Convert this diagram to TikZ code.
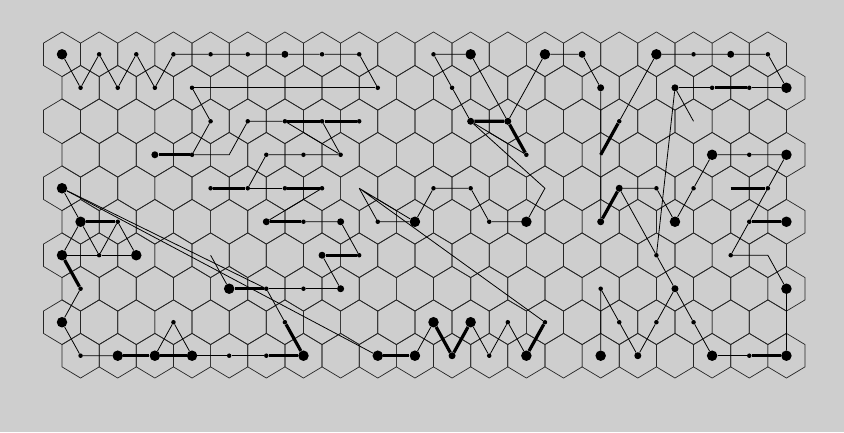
\documentclass[tikz,border=0pt]{standalone}
\definecolor{bg}{RGB}{206,206,206}
\begin{document}
\begin{tikzpicture}[x=1pt,y=-1pt,
  hexline/.style={draw=black!85, line width=0.7pt},
  dotS/.style={circle, fill=black, inner sep=0pt, minimum size=4.5pt},
  dotM/.style={circle, fill=black, inner sep=0pt, minimum size=7pt},
  dotL/.style={circle, fill=black, inner sep=0pt, minimum size=10.5pt},
  tl/.style={draw=black, line width=0.8pt},
  tk/.style={draw=black, line width=3.2pt}]
\fill[bg] (0,0) rectangle (844,432);
\useasboundingbox (0,0) rectangle (844,432);
\foreach \r in {0,...,9}{
  \foreach \c in {0,...,19}{
    \pgfmathsetmacro{\cx}{62+37.15*\c+18.575*mod(\r,2)}
    \pgfmathsetmacro{\cy}{54.3+33.49*\r}
    \coordinate (g-\r-\c) at (\cx,\cy);
    \draw[hexline] (\cx,\cy-22.33) -- (\cx+18.575,\cy-11.165) -- (\cx+18.575,\cy+11.165) -- (\cx,\cy+22.33) -- (\cx-18.575,\cy+11.165) -- (\cx-18.575,\cy-11.165) -- cycle;
  }
}
\newcommand\dt[3]{\node[#1] (n-#2-#3) at (g-#2-#3) {};}
% row 0
\dt{dotL}{0}{0}
\foreach \c in {1,2,3,4,5,7,8,10,17,19}{\dt{dotS}{0}{\c}}
\foreach \c in {6,14,18}{\dt{dotM}{0}{\c}}
\foreach \c in {11,13,16}{\dt{dotL}{0}{\c}}
% row 1
\foreach \c in {0,1,2,3,8,10,17,18}{\dt{dotS}{1}{\c}}
\foreach \c in {14,16}{\dt{dotM}{1}{\c}}
\dt{dotL}{1}{19}
% row 2
\foreach \c in {4,5,6,7,8,15}{\dt{dotS}{2}{\c}}
\foreach \c in {11,12}{\dt{dotM}{2}{\c}}
% row 3
\foreach \c in {3,5,6,7,12,18}{\dt{dotS}{3}{\c}}
\dt{dotM}{3}{2}
\foreach \c in {17,19}{\dt{dotL}{3}{\c}}
% row 4
\dt{dotL}{4}{0}
\foreach \c in {4,5,6,7,10,11,16,17,19}{\dt{dotS}{4}{\c}}
\dt{dotM}{4}{15}
% row 5
\foreach \c in {0,9,12,16,19}{\dt{dotL}{5}{\c}}
\foreach \c in {5,7,14}{\dt{dotM}{5}{\c}}
\foreach \c in {1,6,8,11,18}{\dt{dotS}{5}{\c}}
% row 6
\foreach \c in {0,2}{\dt{dotL}{6}{\c}}
\foreach \c in {1,8,16,18}{\dt{dotS}{6}{\c}}
\dt{dotM}{6}{7}
% row 7
\foreach \c in {0,5,6,14}{\dt{dotS}{7}{\c}}
\dt{dotL}{7}{4}
\foreach \c in {7,16}{\dt{dotM}{7}{\c}}
\dt{dotL}{7}{19}
% row 8
\foreach \c in {0,10,11}{\dt{dotL}{8}{\c}}
\foreach \c in {3,6,12,13,15,16,17}{\dt{dotS}{8}{\c}}
% row 9
\foreach \c in {0,4,5,11,18}{\dt{dotS}{9}{\c}}
\foreach \c in {1,2,3,6,8,9,12,14,17,19}{\dt{dotL}{9}{\c}}
\foreach \c in {10,15}{\dt{dotM}{9}{\c}}
% ---------- links ----------
\draw[tl] (n-0-0) -- (n-1-0) -- (n-0-1) -- (n-1-1) -- (n-0-2) -- (n-1-2) -- (n-0-3) -- (n-0-4) -- (n-0-5) -- (n-0-6) -- (n-0-7) -- (n-0-8) -- (n-1-8);
\draw[tl] (n-1-3) -- (n-1-8);
\draw[tl] (n-1-3) -- (n-2-4) -- (n-3-3) -- (g-3-4) -- (n-2-5) -- (n-2-6);
\draw[tk] (n-3-3) -- (n-3-2);
\draw[tk] (n-2-6) -- (n-2-7) -- (n-2-8);
\draw[tl] (n-2-6) -- (n-3-7);
\draw[tl] (n-2-7) -- (n-3-7);
\draw[tl] (n-3-7) -- (n-3-6) -- (n-3-5) -- (n-4-5);
\draw[tk] (n-4-4) -- (n-4-5);
\draw[tl] (n-4-5) -- (n-4-6);
\draw[tk] (n-4-6) -- (n-4-7);
\draw[tl] (n-4-7) -- (n-5-5);
\draw[tk] (n-5-5) -- (n-5-6);
\draw[tl] (n-5-6) -- (n-5-7) -- (n-6-8);
\draw[tk] (n-6-8) -- (n-6-7);
\draw[tl] (n-6-7) -- (n-7-7);
\draw[tk] (n-7-4) -- (n-7-5);
\draw[tl] (n-7-5) -- (n-7-6) -- (n-7-7);
\draw[tl] (n-7-5) -- (n-8-6);
\draw[tk] (n-8-6) -- (n-9-6);
\draw[tl] (n-9-4) -- (n-9-5);
\draw[tk] (n-9-5) -- (n-9-6);
\draw[tl] (g-6-4) -- (n-7-4);
\draw[tl] (n-4-0) -- (n-9-8);
\draw[tl] (n-4-0) -- (n-7-5);
\draw[tk] (n-9-8) -- (n-9-9);
\draw[tl] (n-9-9) -- (n-8-10);
\draw[tk] (n-8-10) -- (n-9-10) -- (n-8-11);
\draw[tl] (n-8-11) -- (n-9-11) -- (n-8-12) -- (n-9-12);
\draw[tk] (n-9-12) -- (n-8-13);
\draw[tl] (n-8-13) -- (g-4-8) -- (n-5-9);
\draw[tl] (g-4-8) -- (n-5-8) -- (n-5-9) -- (n-4-10) -- (n-4-11) -- (n-5-11) -- (n-5-12) -- (g-4-13) -- (n-2-11);
\draw[tl] (n-2-11) -- (n-3-12);
\draw[tk] (n-2-11) -- (n-2-12) -- (n-3-12);
\draw[tl] (n-0-10) -- (n-0-11) -- (n-2-12);
\draw[tl] (n-0-10) -- (n-1-10) -- (n-2-11);
\draw[tl] (n-0-13) -- (n-2-12);
\draw[tl] (n-0-13) -- (n-0-14) -- (n-1-14) -- (n-5-14);
\draw[tk] (n-2-15) -- (g-3-14);
\draw[tk] (n-4-15) -- (n-5-14);
\draw[tl] (n-0-16) -- (n-2-15);
\draw[tl] (n-0-16) -- (n-0-17) -- (n-0-18) -- (n-0-19) -- (n-1-19);
\draw[tl] (n-1-16) -- (n-1-17);
\draw[tk] (n-1-17) -- (n-1-18);
\draw[tl] (n-1-18) -- (n-1-19);
\draw[tl] (n-1-16) -- (g-2-17);
\draw[tl] (n-1-16) -- (n-6-16);
\draw[tl] (n-4-15) -- (n-6-16);
\draw[tl] (n-4-15) -- (n-4-16) -- (n-5-16) -- (n-4-17) -- (n-3-17) -- (n-3-18) -- (n-3-19) -- (n-4-19) -- (n-5-18) -- (n-6-18) -- (g-6-19) -- (n-7-19) -- (n-9-19);
\draw[tk] (g-4-18) -- (n-4-19);
\draw[tk] (n-5-18) -- (n-5-19);
\draw[tl] (n-9-17) -- (n-9-18);
\draw[tk] (n-9-18) -- (n-9-19);
\draw[tl] (n-6-16) -- (n-7-16) -- (n-8-17) -- (n-9-17);
\draw[tl] (n-7-16) -- (n-8-16) -- (n-9-15) -- (n-8-15) -- (n-7-14) -- (n-9-14);
\draw[tl] (n-4-0) -- (n-5-0);
\draw[tk] (n-5-0) -- (n-5-1);
\draw[tl] (n-5-0) -- (n-6-0);
\draw[tl] (n-5-0) -- (n-6-1);
\draw[tl] (n-5-1) -- (n-6-1);
\draw[tl] (n-5-1) -- (n-6-2);
\draw[tl] (n-6-0) -- (n-6-1) -- (n-6-2);
\draw[tk] (n-6-0) -- (n-7-0);
\draw[tl] (n-7-0) -- (n-8-0) -- (n-9-0) -- (n-9-1);
\draw[tk] (n-9-1) -- (n-9-2) -- (n-9-3);
\draw[tl] (n-9-3) -- (n-9-4);
\draw[tl] (n-9-2) -- (n-8-3) -- (n-9-3);
\end{tikzpicture}
\end{document}
